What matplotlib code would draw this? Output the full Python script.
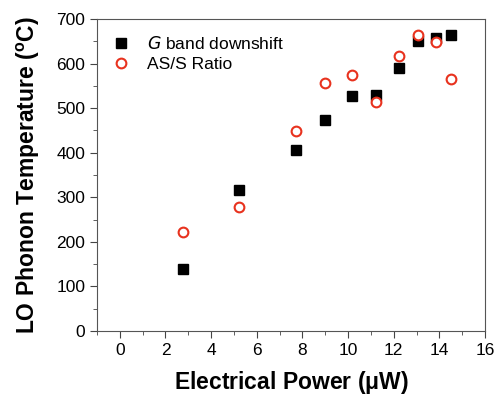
import matplotlib
matplotlib.use("Agg")
import matplotlib.pyplot as plt
from matplotlib.ticker import MultipleLocator

plt.rcParams['font.family'] = ['Liberation Sans', 'DejaVu Sans']

# electrical power (uW)
power_g = [2.78, 5.22, 7.74, 9.0, 10.17, 11.24, 12.23, 13.07, 13.85, 14.53]
temp_g = [140, 316, 407, 473, 528, 529, 591, 650, 657, 663]

power_as = [2.78, 5.22, 7.74, 9.0, 10.17, 11.24, 12.23, 13.07, 13.85, 14.53]
temp_as = [223, 278, 448, 557, 575, 514, 617, 664, 648, 565]

fig = plt.figure(figsize=(5, 4), dpi=100)
ax = fig.add_axes([0.194, 0.1725, 0.776, 0.78])

ax.plot(power_g, temp_g, 's', color='black', markersize=6.5, linestyle='none',
        label='$\\mathit{G}$ band downshift')
ax.plot(power_as, temp_as, 'o', markerfacecolor='white', markeredgecolor='#e8321e',
        markeredgewidth=1.5, markersize=7, linestyle='none', label='AS/S Ratio')

ax.set_xlim(-1, 16)
ax.set_ylim(0, 700)
ax.xaxis.set_major_locator(MultipleLocator(2))
ax.xaxis.set_minor_locator(MultipleLocator(1))
ax.yaxis.set_major_locator(MultipleLocator(100))
ax.yaxis.set_minor_locator(MultipleLocator(50))
ax.tick_params(which='both', direction='out', color='#444444', labelsize=12.5)
ax.tick_params(which='major', length=5)
ax.tick_params(which='minor', length=3)
for s in ax.spines.values():
    s.set_color('#555555')

ax.set_xlabel('Electrical Power ($\\mathregular{\\mu}$W)', fontsize=16.5,
              fontweight='bold', labelpad=8)
ax.set_ylabel('LO Phonon Temperature ($\\mathregular{^o}$C)', fontsize=16.5,
              fontweight='bold', labelpad=10)

ax.legend(loc='upper left', frameon=False, fontsize=12.5, handlelength=1.0,
          handletextpad=1.0, borderaxespad=0.5, labelspacing=0.3)

fig.savefig('out.png')
